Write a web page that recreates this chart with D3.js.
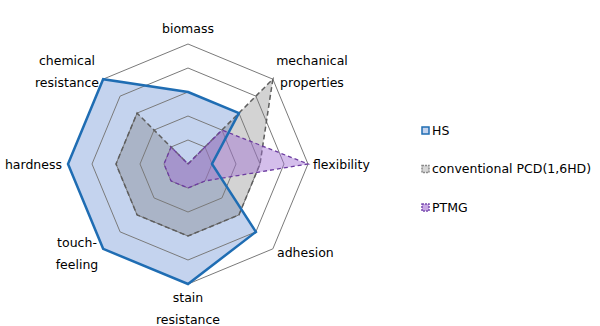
<!DOCTYPE html>
<html>
<head>
<meta charset="utf-8">
<script src="https://cdn.jsdelivr.net/npm/d3@7"></script>
<style>
  body { margin: 0; background: #fff; }
  text { font-family: "DejaVu Sans", Verdana, sans-serif; font-size: 12.5px; fill: #000; }
</style>
</head>
<body>
<script>
// Axis labels (clockwise from top), each split into display lines
var axes = [["biomass"], ["mechanical", "properties"], ["flexibility"], ["adhesion"],
            ["stain", "resistance"], ["touch-", "feeling"], ["hardness"], ["chemical", "resistance"]];

// Series values, 0-5 scale
var hsValues   = [3, 3, 1, 4, 5, 5, 5, 5];
var pcdValues  = [0, 5, 3, 3, 3, 3, 3, 3];
var ptmgValues = [0, 2, 5, 1, 1, 1, 1, 1];

var seriesNames = ["HS", "conventional PCD(1,6HD)", "PTMG"];
var levels = [1, 2, 3, 4, 5];

var width = 600, height = 326,
    cx = 188, cy = 164, radius = 120;

var svg = d3.select("body").append("svg")
    .attr("width", width)
    .attr("height", height);

var r = d3.scaleLinear().domain([0, 5]).range([0, radius]);
var angle = d3.scaleLinear().domain([0, axes.length]).range([0, 2 * Math.PI]);

var g = svg.append("g")
    .attr("transform", "translate(" + cx + "," + cy + ")");

var radial = d3.lineRadial()
    .angle(function(d, i) { return angle(i); })
    .radius(function(d) { return r(d); })
    .curve(d3.curveLinearClosed);

// HS fill under everything
g.append("path")
    .attr("d", radial(hsValues))
    .style("fill", "#c4d3ee");

// conventional PCD fill
g.append("path")
    .attr("d", radial(pcdValues))
    .style("fill", "rgba(110,110,110,0.3)");

// grid octagons, visible through the fills
g.selectAll(".grid")
    .data(levels)
    .enter().append("path")
    .attr("class", "grid")
    .attr("d", function(l) { return radial(axes.map(function() { return l; })); })
    .style("fill", "none")
    .style("stroke", "#7a7a7a")
    .style("stroke-width", 1);

// conventional PCD outline
g.append("path")
    .attr("d", radial(pcdValues))
    .style("fill", "none")
    .style("stroke", "#5e5e5e")
    .style("stroke-width", 1.5)
    .style("stroke-dasharray", "5,3");

// PTMG
g.append("path")
    .attr("d", radial(ptmgValues))
    .style("fill", "rgba(160,110,210,0.45)")
    .style("stroke", "#6c3ca0")
    .style("stroke-width", 1.3)
    .style("stroke-dasharray", "4,3");

// HS outline on top
g.append("path")
    .attr("d", radial(hsValues))
    .style("fill", "none")
    .style("stroke", "#1f6db3")
    .style("stroke-width", 2.5)
    .style("stroke-linejoin", "miter");

// axis labels
var labelPos = [
  {x: 0, y: -131, anchor: "middle"},
  {x: 124, y: -99, anchor: "middle"},
  {x: 125, y: 5, anchor: "start"},
  {x: 89, y: 93, anchor: "start"},
  {x: 0, y: 138, anchor: "middle"},
  {x: -111, y: 83, anchor: "middle"},
  {x: -126, y: 5, anchor: "end"},
  {x: -121, y: -99, anchor: "middle"}
];

axes.forEach(function(lines, i) {
  var p = labelPos[i];
  var t = g.append("text")
      .attr("text-anchor", p.anchor)
      .attr("x", p.x)
      .attr("y", p.y);
  lines.forEach(function(s, j) {
    t.append("tspan")
      .attr("x", p.x)
      .attr("dy", j === 0 ? 0 : 22)
      .text(s);
  });
});

// legend
var legendStyles = [
  {fill: "#c4d3ee", stroke: "#1f6db3", dash: null},
  {fill: "#d6d6d6", stroke: "#8a8a8a", dash: "2,1"},
  {fill: "#c8a8e4", stroke: "#7a4cb0", dash: "2,1"}
];

var legend = svg.append("g")
    .attr("transform", "translate(421,130)");

var item = legend.selectAll(".item")
    .data(seriesNames)
    .enter().append("g")
    .attr("class", "item")
    .attr("transform", function(d, i) { return "translate(0," + (i * 38.5) + ")"; });

item.append("rect")
    .attr("x", 1)
    .attr("y", -3)
    .attr("width", 7)
    .attr("height", 7)
    .style("fill", function(d, i) { return legendStyles[i].fill; })
    .style("stroke", function(d, i) { return legendStyles[i].stroke; })
    .style("stroke-width", 1.5)
    .style("stroke-dasharray", function(d, i) { return legendStyles[i].dash; });

item.append("text")
    .attr("x", 11)
    .attr("y", 4.5)
    .text(function(d) { return d; });
</script>
</body>
</html>
